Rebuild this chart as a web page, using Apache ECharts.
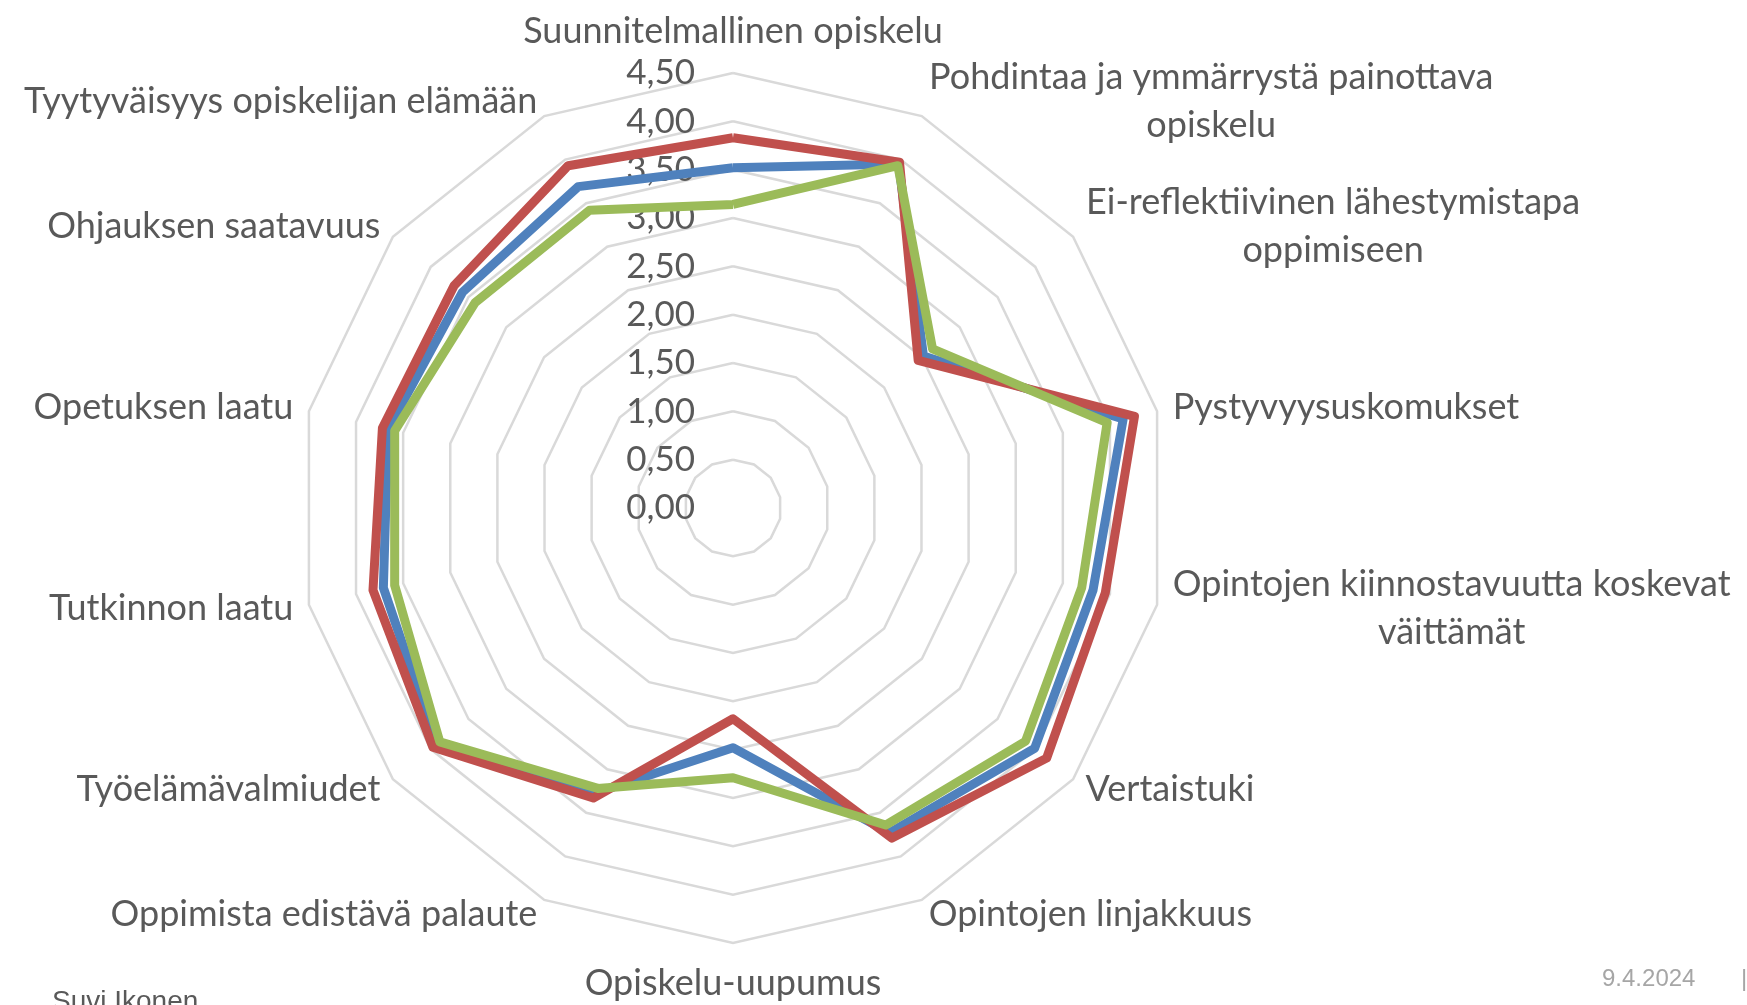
<!DOCTYPE html>
<html>
<head>
<meta charset="utf-8">
<title>Opiskelijapalaute</title>
<script src="https://cdn.jsdelivr.net/npm/echarts@6/dist/echarts.min.js"></script>
<style>
    html, body { margin: 0; padding: 0; background: #ffffff; }
    #radarChart { width: 1747px; height: 1005px; }
</style>
</head>
<body>
<div id="radarChart"></div>
<script>
// akselit myötäpäivään ylhäältä alkaen
const indicatorNames = [
    'Suunnitelmallinen opiskelu',
    'Pohdintaa ja ymmärrystä painottava\nopiskelu',
    'Ei-reflektiivinen lähestymistapa\noppimiseen',
    'Pystyvyysuskomukset',
    'Opintojen kiinnostavuutta koskevat\nväittämät',
    'Vertaistuki',
    'Opintojen linjakkuus',
    'Opiskelu-uupumus',
    'Oppimista edistävä palaute',
    'Työelämävalmiudet',
    'Tutkinnon laatu',
    'Opetuksen laatu',
    'Ohjauksen saatavuus',
    'Tyytyväisyys opiskelijan elämään'
];

const seriesNames = ['Sarja1', 'Sarja2', 'Sarja3'];
const blueValues  = [3.52, 3.95, 2.52, 4.14, 3.82, 3.99, 3.73, 2.48, 3.27, 3.92, 3.71, 3.66, 3.58, 3.69];
const redValues   = [3.83, 3.97, 2.45, 4.26, 3.95, 4.15, 3.79, 2.18, 3.33, 3.97, 3.82, 3.72, 3.69, 3.93];
const greenValues = [3.14, 3.93, 2.64, 3.97, 3.70, 3.87, 3.64, 2.79, 3.22, 3.88, 3.59, 3.59, 3.41, 3.42];

// asteikko 0,00 ... 4,50
const scaleMax = 4.5;
const scaleSplits = 9;

const footerAuthor = 'Suvi Ikonen';
const footerDate = '9.4.2024';

document.addEventListener('DOMContentLoaded', function () {
    initRadar();
});

// ECharts piirtää tutkan vastapäivään, joten järjestys käännetään (yläakseli pysyy ensimmäisenä)
function toCounterClockwise(arr) {
    return [arr[0]].concat(arr.slice(1).reverse());
}

function initRadar() {
    const el = document.getElementById('radarChart');
    echarts.dispose(el);
    const chart = echarts.init(el);

    const labelFont = 'Lato';
    const labelSize = 36;
    const labelColor = '#595959';

    // monirivisille nimille keskitetyt rivit
    const ctx = document.createElement('canvas').getContext('2d');
    ctx.font = labelSize + 'px ' + labelFont;
    const rich = {};
    indicatorNames.forEach(function (name, i) {
        const lines = name.split('\n');
        if (lines.length > 1) {
            const w = Math.max.apply(null, lines.map(function (l) { return ctx.measureText(l).width; }));
            rich['m' + i] = {
                width: Math.ceil(w),
                align: 'center',
                fontFamily: labelFont,
                fontSize: labelSize,
                color: labelColor,
                lineHeight: 48
            };
        }
    });

    const names = toCounterClockwise(indicatorNames);
    const indicators = names.map(function (name, i) {
        const ind = { name: name, min: 0, max: scaleMax };
        if (i === 0) {
            ind.axisLabel = {
                show: true,
                margin: 38,
                fontFamily: labelFont,
                fontSize: 35,
                color: labelColor,
                formatter: function (v) { return v.toFixed(2).replace('.', ','); }
            };
        }
        return ind;
    });

    const option = {
        backgroundColor: '#ffffff',
        animation: false,
        title: [
            {
                text: footerAuthor,
                left: 47,
                top: 983,
                textStyle: { fontFamily: 'Liberation Sans', fontSize: 28, fontWeight: 'normal', color: '#595959' }
            },
            {
                text: footerDate,
                left: 1597,
                top: 962,
                textStyle: { fontFamily: 'Liberation Sans', fontSize: 24, fontWeight: 'normal', color: '#A6A6A6' }
            },
            {
                text: '|',
                left: 1736,
                top: 962,
                textStyle: { fontFamily: 'Liberation Sans', fontSize: 24, fontWeight: 'normal', color: '#A6A6A6' }
            }
        ],
        radar: {
            center: [733, 508],
            radius: 435,
            startAngle: 90,
            shape: 'polygon',
            splitNumber: scaleSplits,
            indicator: indicators,
            axisName: {
                color: labelColor,
                fontFamily: labelFont,
                fontSize: labelSize,
                lineHeight: 48,
                rich: rich,
                formatter: function (name) {
                    const i = indicatorNames.indexOf(name);
                    const lines = name.split('\n');
                    if (lines.length === 1) return name;
                    return lines.map(function (l) { return '{m' + i + '|' + l + '}'; }).join('\n');
                }
            },
            nameGap: 16,
            axisLine: { show: false },
            axisTick: { show: false },
            axisLabel: { show: false },
            splitArea: { show: false },
            splitLine: {
                lineStyle: { color: '#D9D9D9', width: 2.5 }
            }
        },
        series: [{
            type: 'radar',
            symbol: 'none',
            data: [
                { name: seriesNames[0], value: toCounterClockwise(blueValues),  lineStyle: { color: '#4F81BD', width: 9 }, itemStyle: { color: '#4F81BD' } },
                { name: seriesNames[1], value: toCounterClockwise(redValues),   lineStyle: { color: '#C0504D', width: 9 }, itemStyle: { color: '#C0504D' } },
                { name: seriesNames[2], value: toCounterClockwise(greenValues), lineStyle: { color: '#9BBB59', width: 9 }, itemStyle: { color: '#9BBB59' } }
            ]
        }]
    };

    chart.setOption(option);

    window.addEventListener('resize', function () {
        chart.resize();
    });
}
</script>
</body>
</html>
